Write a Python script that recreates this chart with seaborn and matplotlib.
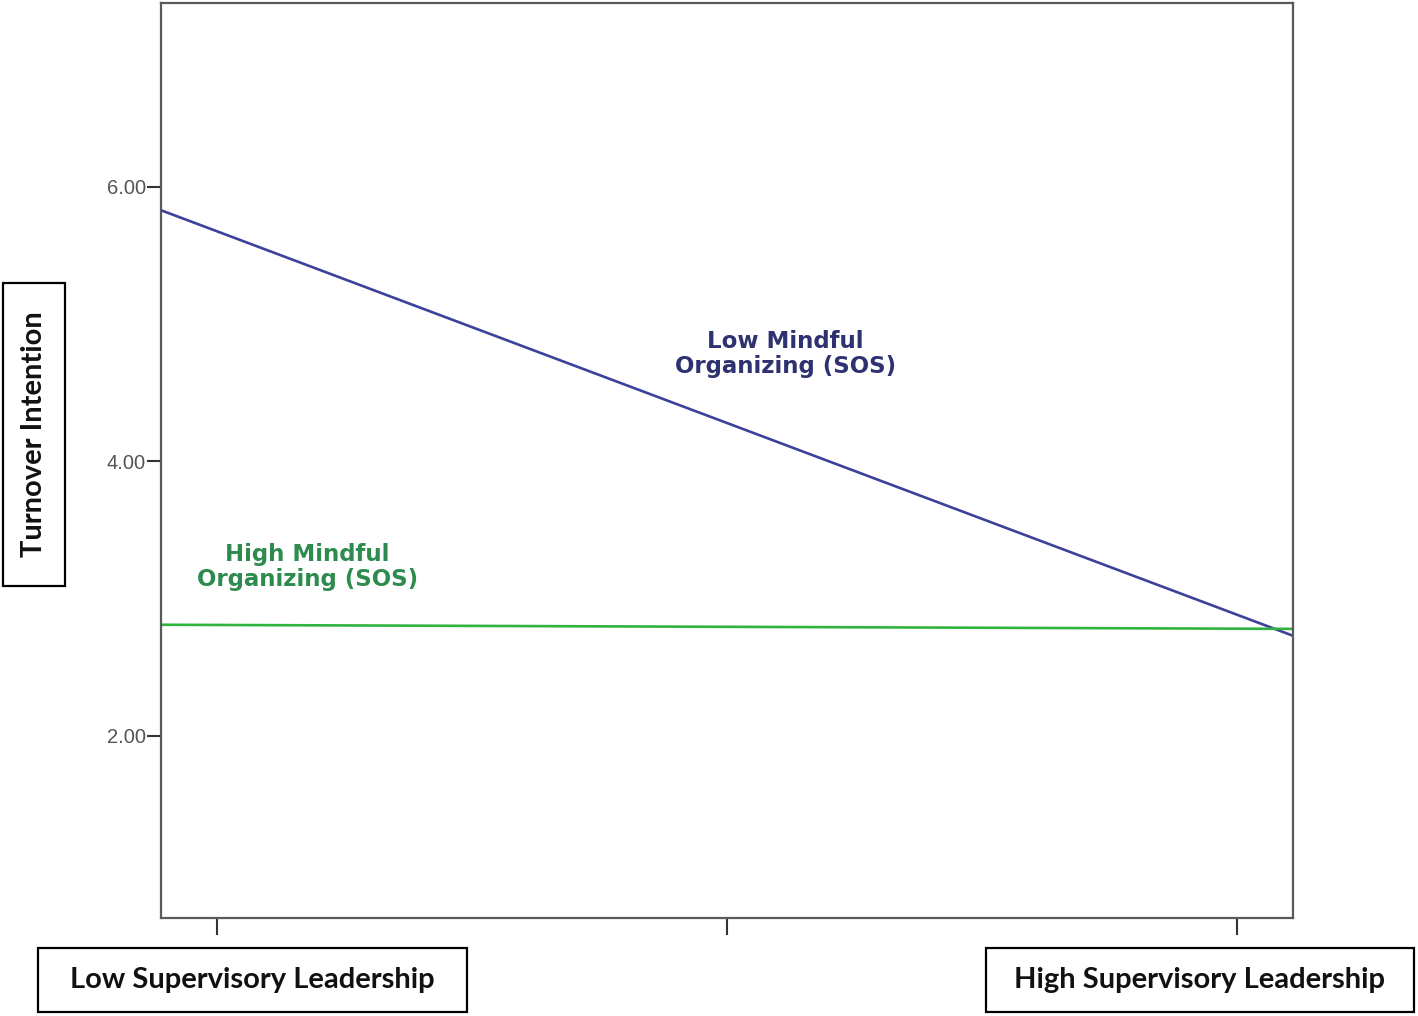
#!/usr/bin/env python
# coding: utf-8

# Interaction plot: supervisory leadership x mindful organizing on turnover intention

import numpy as np
import pandas as pd
import matplotlib.pyplot as plt
import matplotlib.patches as patches
import seaborn as sns

# Data (fit lines span the full x range of the axes)
leadership = [-0.11, 2.11]
low_mindful = [5.83, 2.73]
high_mindful = [2.81, 2.78]
group_names = ['Low Mindful\nOrganizing (SOS)', 'High Mindful\nOrganizing (SOS)']
y_ticks = [2.0, 4.0, 6.0]
x_ticks = [0, 1, 2]

df = pd.DataFrame({
    'leadership': leadership * 2,
    'turnover': low_mindful + high_mindful,
    'group': [group_names[0]] * 2 + [group_names[1]] * 2,
})

sns.set_style('white')
plt.rcParams['font.family'] = ['Liberation Sans', 'DejaVu Sans']

line_colors = {group_names[0]: '#3d4199', group_names[1]: '#2fb43f'}
text_colors = {group_names[0]: '#2f3270', group_names[1]: '#2e8b4e'}

fig = plt.figure(figsize=(14.18, 10.16), dpi=100)
ax = fig.add_axes([0.1135, 0.0965, 0.7983, 0.9006])

sns.lineplot(data=df, x='leadership', y='turnover', hue='group',
             palette=line_colors, linewidth=1.9, legend=False, ax=ax)

ax.set_xlim(-0.11, 2.11)
ax.set_ylim(0.674, 7.34)
ax.set_xticks(x_ticks)
ax.set_xticklabels([])
ax.set_yticks(y_ticks)
ax.set_yticklabels([f'{v:.2f}' for v in y_ticks], color='#555555', fontsize=14.5)
ax.set_xlabel('')
ax.set_ylabel('')

for side in ['left', 'right', 'top', 'bottom']:
    ax.spines[side].set_visible(True)
    ax.spines[side].set_color('#5a5a5a')
    ax.spines[side].set_linewidth(1.6)
ax.tick_params(axis='both', direction='out', color='#333333', width=1.5,
               bottom=True, left=True)
ax.tick_params(axis='x', length=12)
ax.tick_params(axis='y', length=10, pad=1)

# line labels
ax.text(1.115, 4.78, group_names[0], ha='center', va='center', fontsize=16.5,
        fontweight='bold', color=text_colors[group_names[0]], linespacing=1.12,
        family='DejaVu Sans')
ax.text(0.177, 3.23, group_names[1], ha='center', va='center', fontsize=16.5,
        fontweight='bold', color=text_colors[group_names[1]], linespacing=1.12,
        family='DejaVu Sans')

# boxed axis captions
W, H = 1418, 1016
boxes = [
    (38, 948, 467, 1012, 'Low Supervisory Leadership', 0),
    (986, 948, 1414, 1012, 'High Supervisory Leadership', 0),
    (3, 283, 65, 586, 'Turnover Intention', 90),
]
for x0, y0, x1, y1, label, rot in boxes:
    rect = patches.Rectangle((x0 / W, 1 - y1 / H), (x1 - x0) / W, (y1 - y0) / H,
                             transform=fig.transFigure, fill=False,
                             edgecolor='black', linewidth=1.6)
    fig.patches.append(rect)
    fig.text((x0 + x1) / 2 / W, 1 - (y0 + y1) / 2 / H, label, ha='center',
             va='center', rotation=rot, fontsize=21, fontweight='bold',
             family=['Lato', 'DejaVu Sans'], color='#111111')

fig.savefig('out.png', dpi=100)
